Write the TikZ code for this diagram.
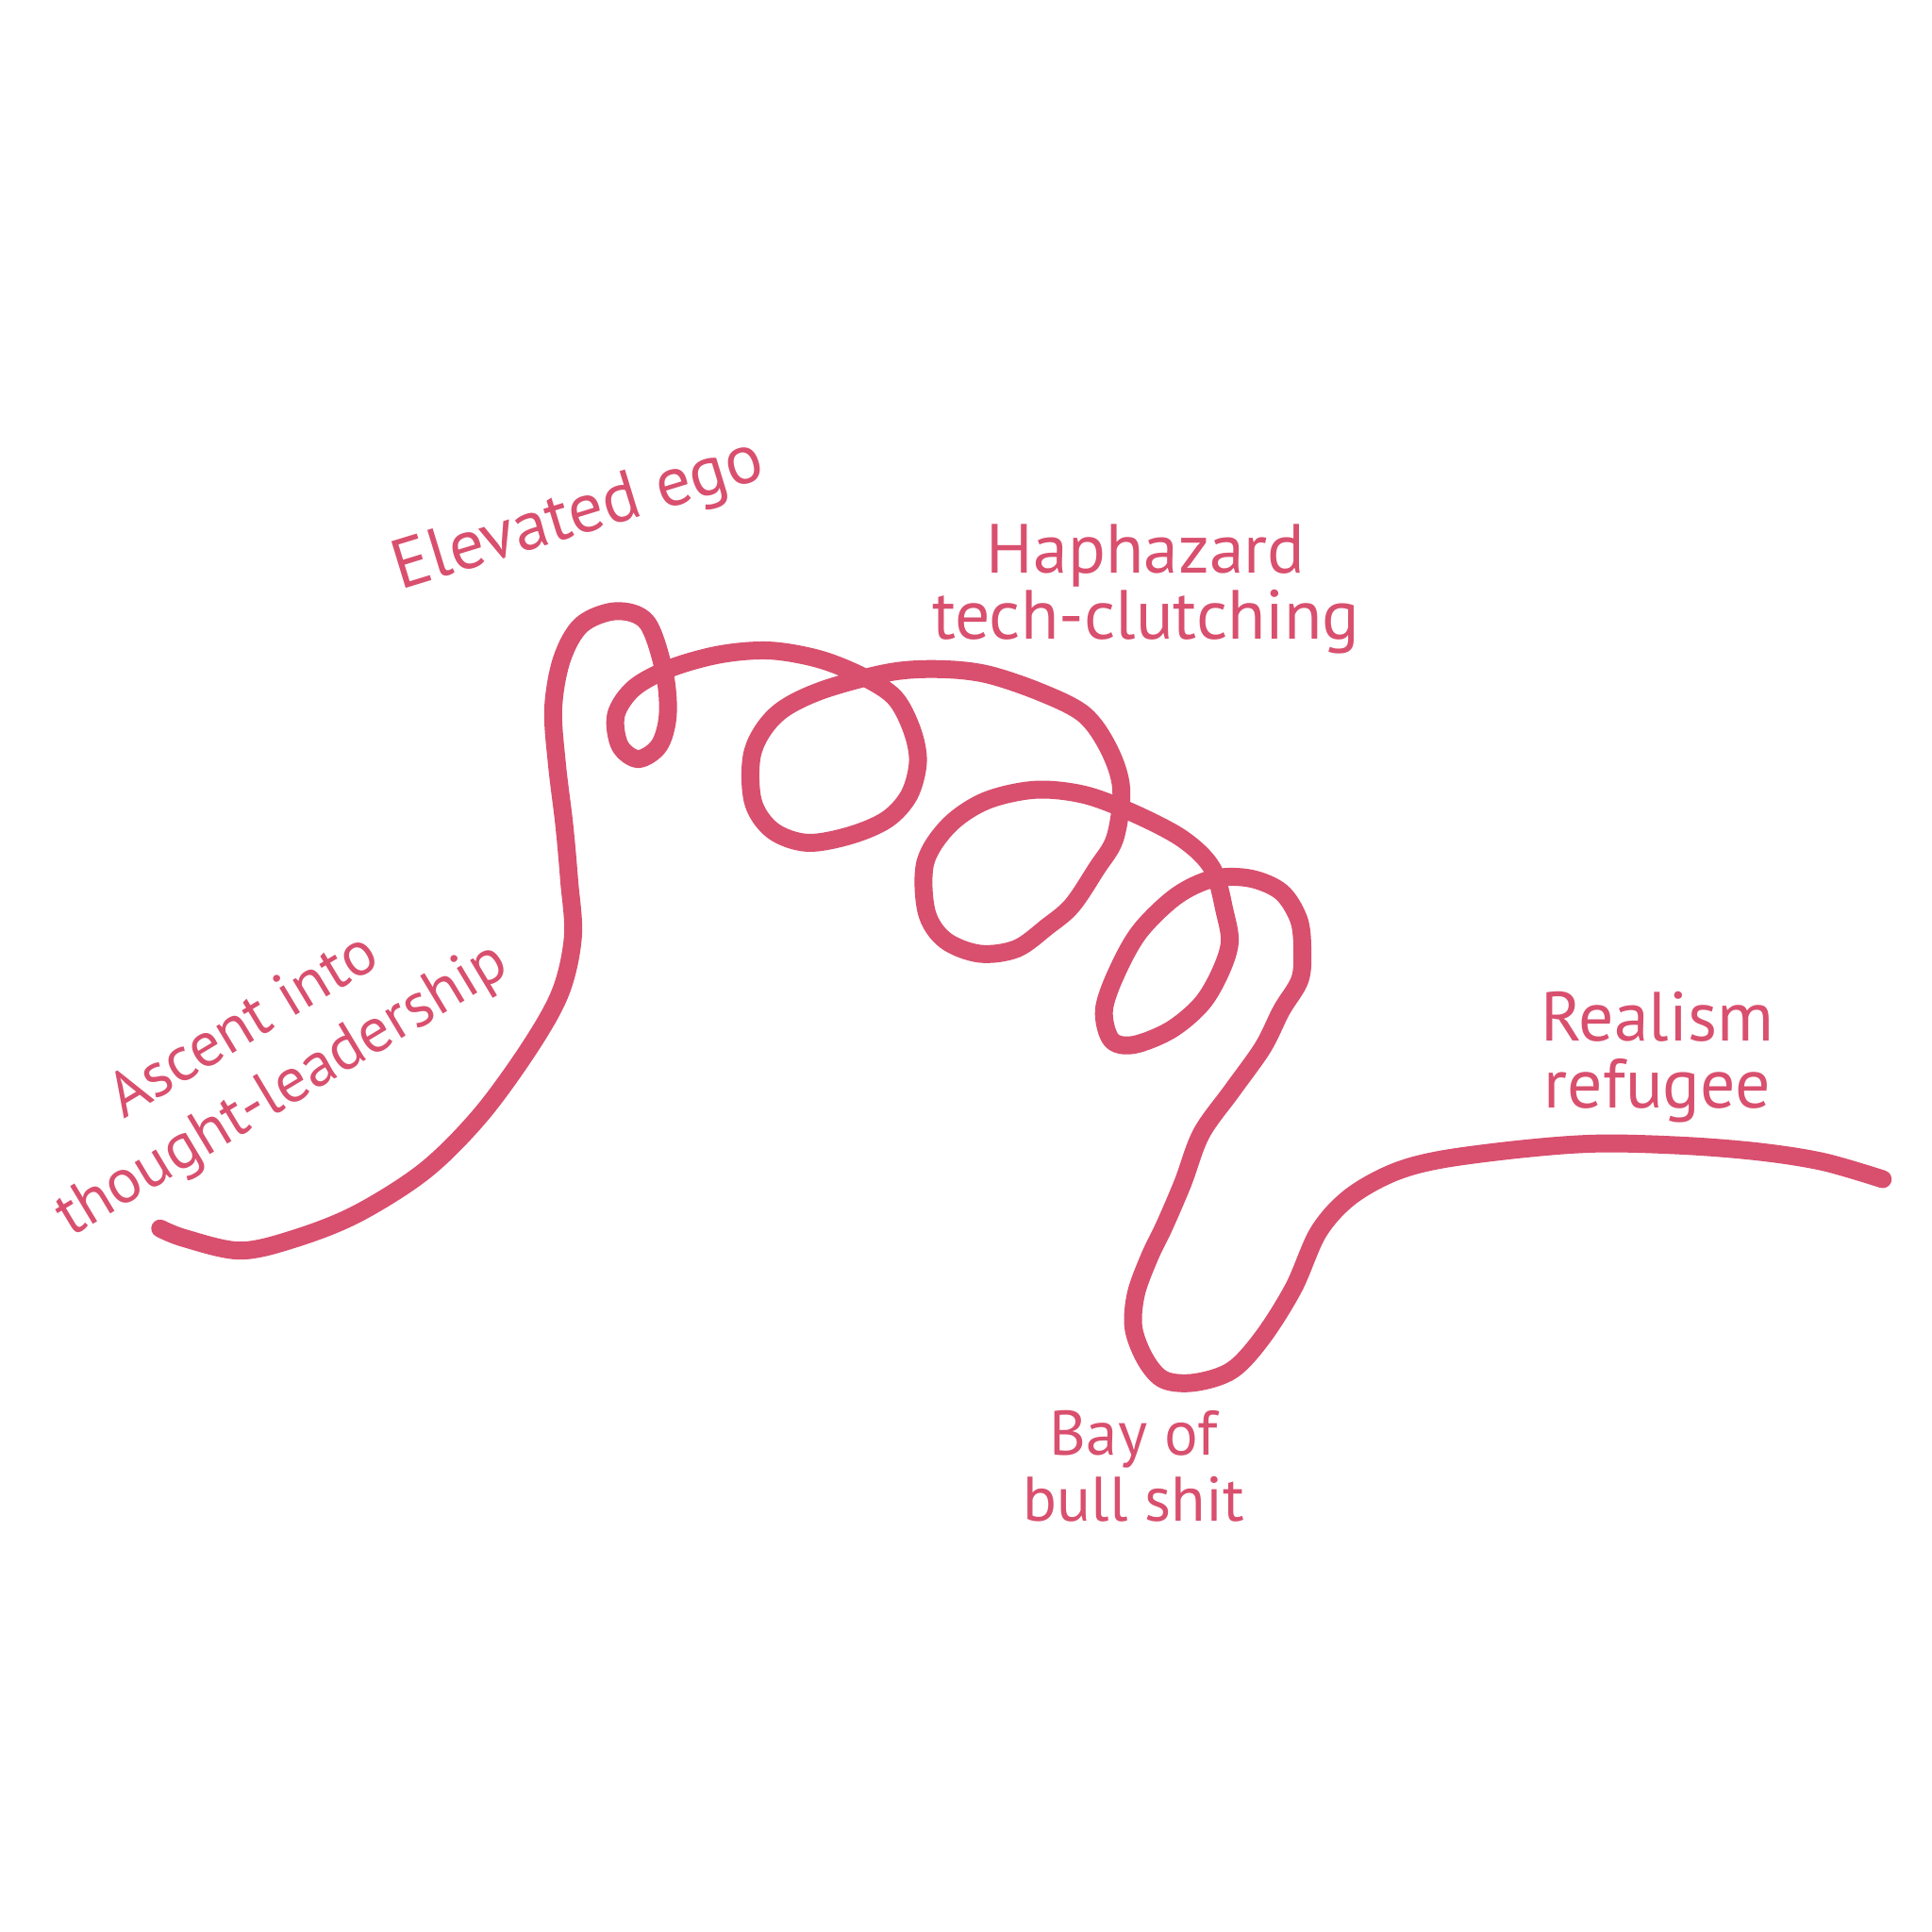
\documentclass[tikz,border=0pt]{standalone}
\usepackage{fontspec}
\setmainfont{PT Sans}
\definecolor{ink}{RGB}{217,79,110}
\begin{document}
\begin{tikzpicture}[x=0.013061cm,y=-0.013061cm,
  curve/.style={draw=ink,line width=5.4pt,line cap=round,line join=round},
  lbl/.style={text=ink,font=\fontsize{21}{20}\selectfont,align=center,inner sep=0pt}]
\useasboundingbox (0,0) rectangle (1568,1568);
\fill[white] (0,0) rectangle (1568,1568);
\draw[curve] plot[smooth,tension=0.55] coordinates {
(130,997) (150,1005) (195,1015) (240,1005) (290,985) (345,950) (390,905) (430,850) (455,805) (465,760) (462,715) (458,670) (452,620) (449,575) (456,535) (472,507) (500,496) (525,505) (539,545) (542,580) (535,605) (518,616) (503,605) (500,580) (515,558) (545,542) (585,531) (625,528) (665,535) (700,549) (726,566) (740,592) (745,618) (738,645) (720,665) (690,678) (655,684) (627,674) (611,650) (611,610) (630,580) (665,561) (720,546) (760,543) (800,547) (845,562) (880,580) (900,608) (910,640) (905,680) (890,705) (870,735) (850,752) (825,770) (795,774) (767,763) (752,740) (751,700) (770,670) (800,650) (840,641) (880,645) (920,660) (960,681) (984,705) (994,740) (998,765) (990,790) (975,815) (950,836) (920,848) (902,844) (896,820) (906,790) (925,756) (955,727) (985,713) (1015,713) (1040,724) (1054,746) (1057,770) (1055,795) (1040,820) (1025,850) (1000,885) (975,920) (960,960) (945,995) (933,1020) (922,1050) (920,1078) (930,1104) (945,1120) (970,1122) (1000,1112) (1025,1085) (1050,1045) (1070,1000) (1095,972) (1130,952) (1170,941) (1240,932) (1300,928) (1370,930) (1430,935) (1480,943) (1528,957)};
\node[lbl,rotate=17] (ego) at (470,420) {Elevated ego};
\node[lbl] (hap) at (930,478) {Haphazard\\tech-clutching};
\node[lbl,rotate=31,font=\fontsize{19}{21}\selectfont] (asc1) at (196,830) {Ascent into};
\node[lbl,rotate=31,font=\fontsize{19}{21}\selectfont] (asc2) at (230,886) {thought-leadership};
\node[lbl] (real) at (1345,858) {Realism\\refugee};
\node[lbl,font=\fontsize{19}{20}\selectfont] (bay) at (920,1190) {Bay of\\bull shit};
\end{tikzpicture}
\end{document}
